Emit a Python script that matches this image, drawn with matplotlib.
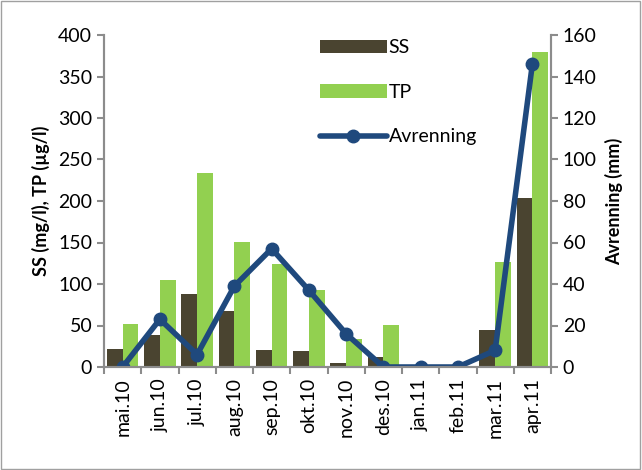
import numpy as np
import matplotlib.pyplot as plt
from matplotlib.patches import Rectangle

plt.rcParams['font.family'] = ['Lato', 'DejaVu Sans']

months = ['mai.10', 'jun.10', 'jul.10', 'aug.10', 'sep.10', 'okt.10',
          'nov.10', 'des.10', 'jan.11', 'feb.11', 'mar.11', 'apr.11']
ss = [22, 38, 88, 67, 21, 19, 5, 12, 0, 0, 44, 204]
tp = [52, 105, 234, 151, 124, 93, 34, 51, 0, 0, 126, 380]
avrenning = [0, 23, 6, 39, 57, 37, 16, 0, 0, 0, 8, 146]

grey = '#8c8c8c'
x = np.arange(len(months))
w = 0.42

fig = plt.figure(figsize=(6.42, 4.7), dpi=100)
fig.patches.append(Rectangle((0.002, 0.003), 0.995, 0.994, transform=fig.transFigure,
                             fill=False, edgecolor='#a0a0a0', lw=1))
ax = fig.add_axes([104 / 642, 1 - 367 / 470, 447 / 642, 332 / 470])
ax.bar(x - w / 2, ss, w, color='#4a4430', label='SS')
ax.bar(x + w / 2, tp, w, color='#92d050', label='TP')
ax.set_xlim(-0.5, len(months) - 0.5)
ax.set_ylim(0, 400)
ax.set_yticks(range(0, 401, 50))
ax.set_ylabel('SS (mg/l), TP (µg/l)', fontsize=13, fontweight='bold', labelpad=6)

ax2 = ax.twinx()
ax2.plot(x, avrenning, color='#1f497d', lw=4, marker='o', ms=9, label='Avrenning',
         solid_capstyle='round', solid_joinstyle='round')
ax2.set_ylim(0, 160)
ax2.set_yticks(range(0, 161, 20))
ax2.set_ylabel('Avrenning (mm)', fontsize=13, fontweight='bold', labelpad=6)

ax.set_xticks(x)
ax.set_xticklabels(months, rotation=90, fontsize=14)
ax.tick_params(axis='x', length=0, pad=8)
ax.set_xticks(np.arange(-0.5, len(months), 1), minor=True)
ax.tick_params(axis='x', which='minor', length=5, color=grey, width=1.5)

for a in (ax, ax2):
    a.spines['top'].set_visible(False)
    for s in ('left', 'right', 'bottom'):
        a.spines[s].set_color(grey)
        a.spines[s].set_linewidth(1.5)
    a.tick_params(axis='y', labelsize=14, color=grey, width=1.5, length=5)

h1, l1 = ax.get_legend_handles_labels()
h2, l2 = ax2.get_legend_handles_labels()
ax.legend(h1 + h2, l1 + l2, loc='upper left', bbox_to_anchor=(0.445, 1.04), frameon=False,
          fontsize=14, labelspacing=1.42, handlelength=3.4, handletextpad=0.1)

fig.savefig('out.png')
